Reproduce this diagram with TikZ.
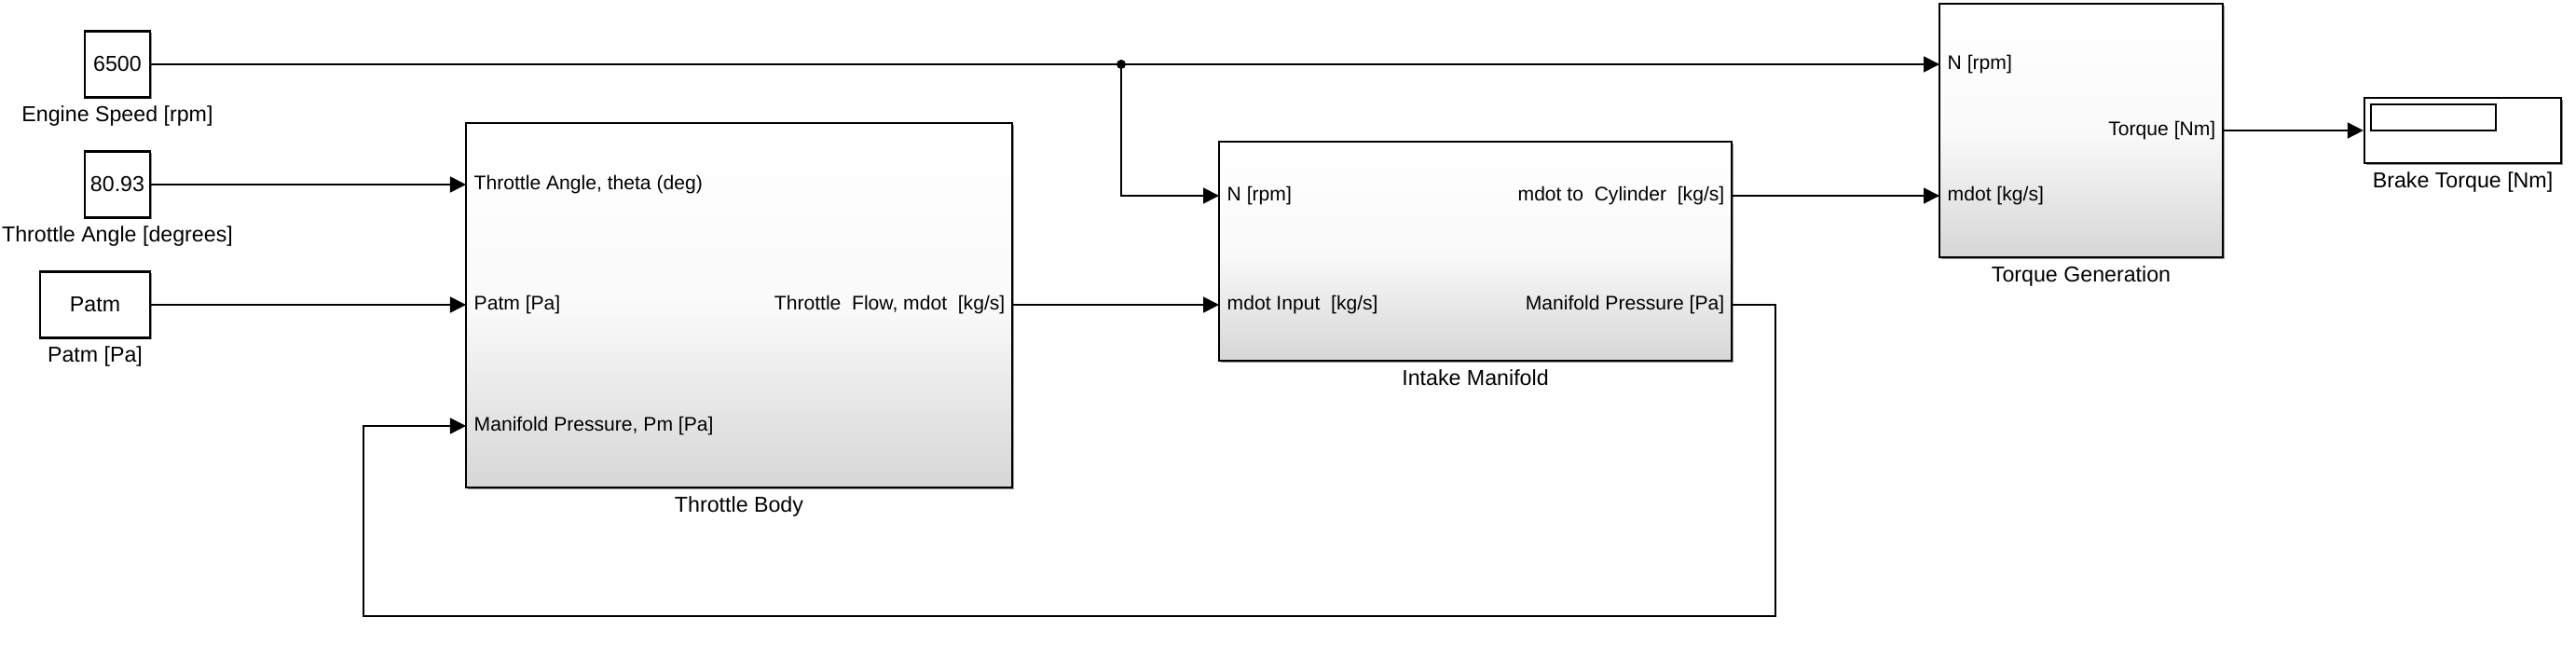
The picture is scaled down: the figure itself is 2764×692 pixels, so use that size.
\documentclass[tikz,border=0pt]{standalone}
\usepackage{fontspec}
\setmainfont{Liberation Sans}
\usetikzlibrary{positioning, arrows.meta, shadows}

\begin{document}
\begin{tikzpicture}[x=0.01cm, y=-0.01cm,
  block/.style={draw, line width=0.6pt, top color=white, bottom color=black!16,
    middle color=black!2, inner sep=0pt,
    drop shadow={shadow xshift=0.6pt, shadow yshift=-0.6pt, opacity=0.6, fill=black!70}},
  src/.style={draw, line width=0.6pt, fill=white, inner sep=0pt,
    font=\fontsize{6.6}{8}\selectfont,
    drop shadow={shadow xshift=0.5pt, shadow yshift=-0.5pt, opacity=0.6, fill=black!70}},
  caption/.style={font=\fontsize{6.6}{8}\selectfont, inner sep=0pt},
  pin/.style={anchor=west, font=\fontsize{6}{7}\selectfont, inner sep=0.08cm},
  pout/.style={anchor=east, font=\fontsize{6}{7}\selectfont, inner sep=0.07cm},
  signal/.style={line width=0.45pt},
  arrow/.style={signal, -{Triangle[length=0.17cm, width=0.17cm]}}
]
\useasboundingbox (0,0) rectangle (2764,692);

% Sources
\node[src, minimum width=0.70cm, minimum height=0.71cm] (es) at (126,69) {6500};
\node[caption, below=0.07cm of es] {Engine Speed [rpm]};
\node[src, minimum width=0.70cm, minimum height=0.71cm] (ta) at (126,198) {80.93};
\node[caption, below=0.07cm of ta] {Throttle Angle [degrees]};
\node[src, minimum width=1.18cm, minimum height=0.71cm] (pa) at (102,327) {Patm};
\node[caption, below=0.07cm of pa] {Patm [Pa]};

% Subsystems
\node[block, minimum width=5.86cm, minimum height=3.91cm] (tb) at (793,327.5) {};
\node[caption, below=0.08cm of tb] {Throttle Body};
\node[block, minimum width=5.50cm, minimum height=2.35cm] (im) at (1583,269.5) {};
\node[caption, below=0.08cm of im] {Intake Manifold};
\node[block, minimum width=3.04cm, minimum height=2.72cm] (tg) at (2233,140) {};
\node[caption, below=0.08cm of tg] {Torque Generation};

% Scope
\node[src, minimum width=2.11cm, minimum height=0.70cm] (sc) at (2642.5,140) {};
\draw[line width=0.45pt] (2544,112) rectangle (2678,140);
\node[caption, below=0.08cm of sc] {Brake Torque [Nm]};

% Ports
\node[pin] (tbA) at (500,198) {Throttle Angle, theta (deg)};
\node[pin] (tbP) at (500,327) {Patm [Pa]};
\node[pin] (tbM) at (500,457) {Manifold Pressure, Pm [Pa]};
\node[pout] (tbQ) at (1086,327) {Throttle~ Flow, mdot~ [kg/s]};
\node[pin] (imN) at (1308,210) {N [rpm]};
\node[pin] (imQ) at (1308,327) {mdot Input~ [kg/s]};
\node[pout] (imC) at (1858,210) {mdot to~ Cylinder~ [kg/s]};
\node[pout] (imP) at (1858,327) {Manifold Pressure [Pa]};
\node[pin] (tgN) at (2081,69) {N [rpm]};
\node[pin] (tgM) at (2081,210) {mdot [kg/s]};
\node[pout] (tgT) at (2385,140) {Torque [Nm]};

% Signals
\coordinate (split) at (1203,69);
\coordinate (fb1) at (1905,661);
\coordinate (fb2) at (390,661);
\draw[signal] (es.east) -- (split);
\draw[arrow] (split) -- (tgN.west);
\draw[arrow] (split) |- (imN.west);
\fill (split) circle (5);
\draw[arrow] (ta.east) -- (tbA.west);
\draw[arrow] (pa.east) -- (tbP.west);
\draw[arrow] (tbQ.east) -- (imQ.west);
\draw[arrow] (imC.east) -- (tgM.west);
\draw[arrow] (imP.east) -| (fb1) -- (fb2) |- (tbM.west);
\draw[arrow] (tgT.east) -- (sc.west);

\end{tikzpicture}
\end{document}
